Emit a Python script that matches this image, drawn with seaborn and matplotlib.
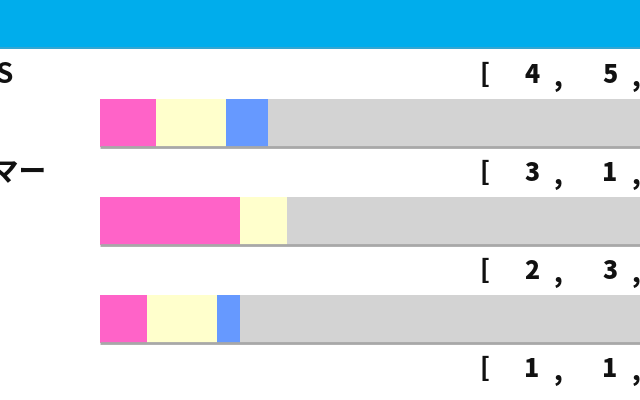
import pandas as pd
import matplotlib.pyplot as plt
import seaborn as sns

sns.set_style('white')
plt.rcParams['font.family'] = ['Noto Sans CJK JP', 'DejaVu Sans']

# row labels (cut at the left edge of the picture)
labels = ['S', 'サマー', '', '']
# [1st, 2nd, 3rd, other] records
firsts = [4, 3, 2, 1]
seconds = [5, 1, 3, 1]
thirds = [3, 0, 1]
others = [38, 11, 24]

colors = ['#ff63c8', '#ffffcc', '#6699ff', '#d3d3d3']

W, H = 640, 400
fig = plt.figure(figsize=(6.4, 4.0), dpi=100)

# background / text layer in pixel coords
bg = fig.add_axes([0, 0, 1, 1])
bg.set_xlim(0, W)
bg.set_ylim(H, 0)
bg.axis('off')
bg.axhspan(0, 47, color='#00adec', lw=0)
bg.axhline(47.5, color='#0b95c9', lw=1.2)

row_gap = 98
for i, lab in enumerate(labels):
    ty = 75 + i * row_gap
    if lab:
        right = 13 if lab == 'S' else 47
        bg.text(right, ty, lab, ha='right', va='center', fontsize=20, fontweight='bold', color='#111111')
    bg.text(484, ty, '[', ha='center', va='center', fontsize=18, fontweight='heavy', color='#111111')
    for k, v in enumerate([firsts[i], seconds[i]]):
        bg.text(532 + 78 * k, ty, str(v), ha='center', va='center', fontsize=18, fontweight='heavy', color='#111111')
        bg.text(558 + 78 * k, ty + 4, ',', ha='center', va='center', fontsize=18, fontweight='heavy', color='#111111')

# stacked bars
n = len(others)
df = pd.DataFrame({
    'row': [str(i) for i in range(n)],
    'first': firsts[:n],
    'second': seconds[:n],
    'third': thirds,
    'other': others,
})
total = df[['first', 'second', 'third', 'other']].sum(axis=1)
df['c1'] = df['first'] / total
df['c2'] = (df['first'] + df['second']) / total
df['c3'] = (df['first'] + df['second'] + df['third']) / total
df['c4'] = 1.0

L = 700
ax = fig.add_axes([100 / W, 0, L / W, 1])
ax.patch.set_alpha(0)
bw = 48 / row_gap
for col, c in zip(['c4', 'c3', 'c2', 'c1'], colors[::-1]):
    sns.barplot(data=df, x=col, y='row', orient='h', color=c, width=bw,
                saturation=1, linewidth=0, ax=ax)
for i in range(n):
    ax.hlines(i + bw / 2, 0, 1, color='#a8a8a8', lw=2)
ax.set_xlim(0, 1)
y0 = 123
ax.set_ylim((H - y0) / row_gap, -y0 / row_gap)
ax.axis('off')

plt.savefig('out.png', dpi=100)
